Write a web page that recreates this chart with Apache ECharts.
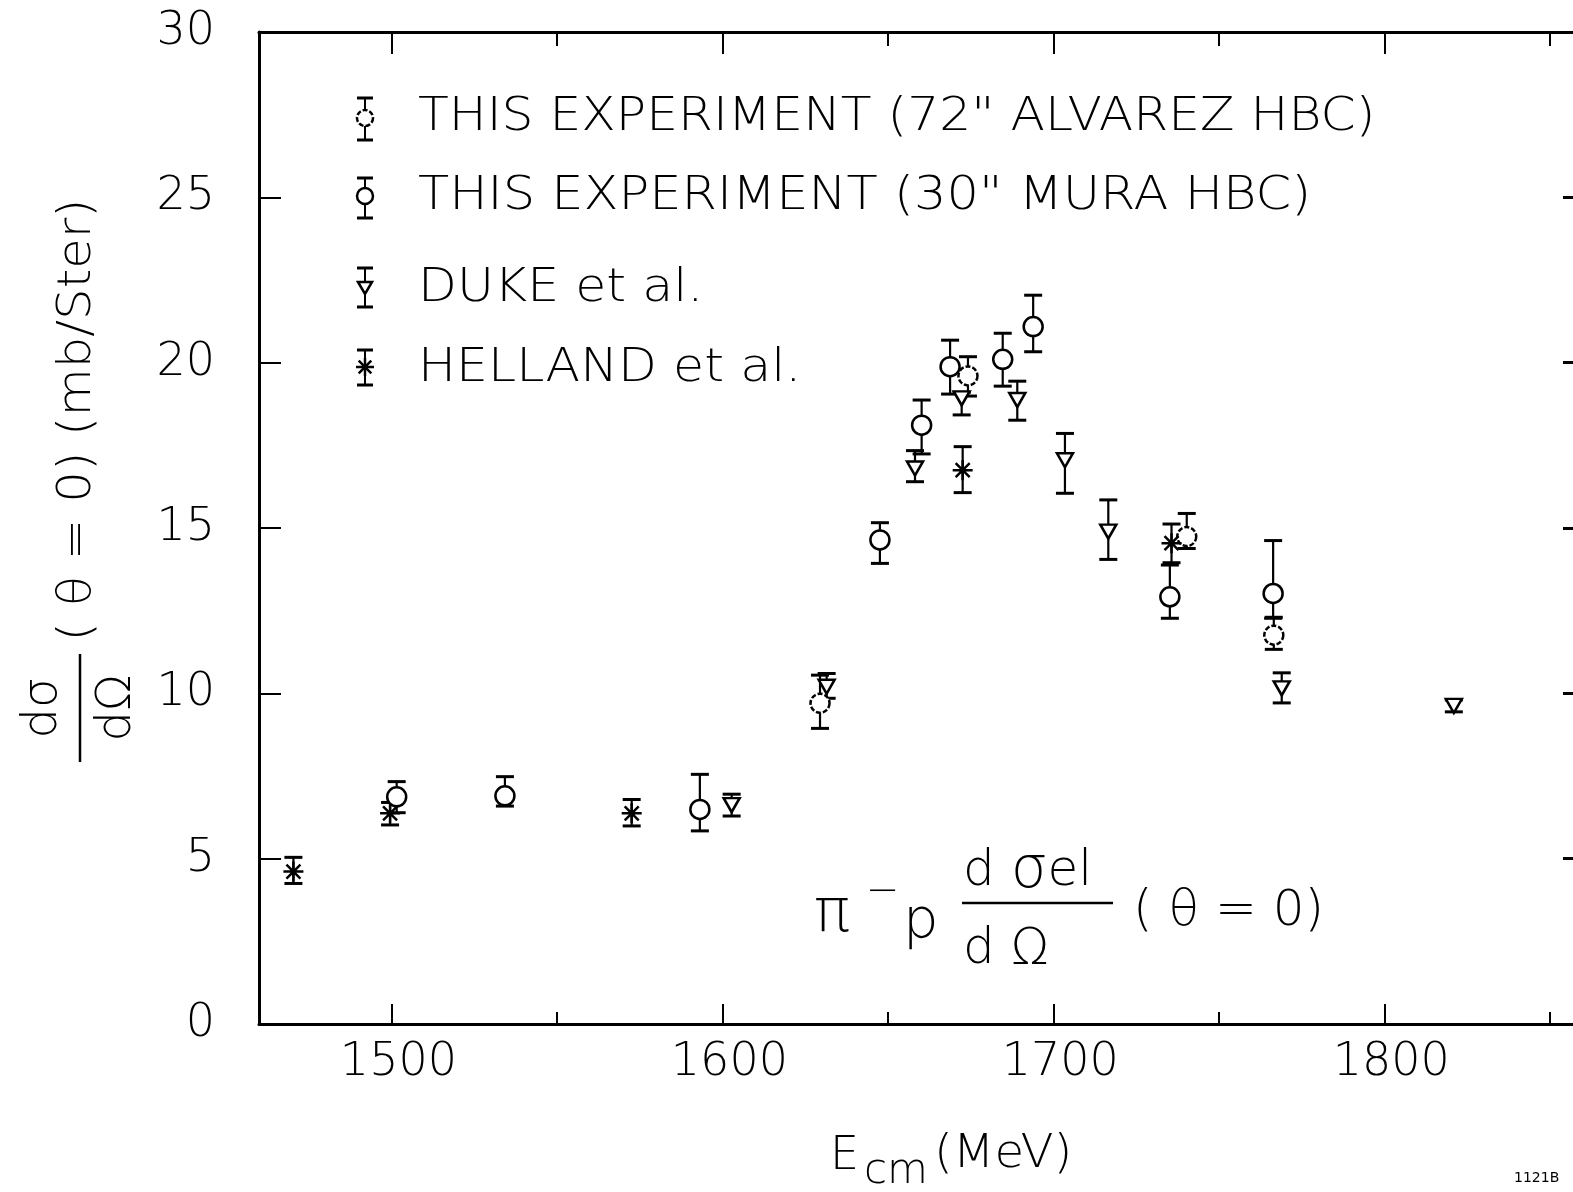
<!DOCTYPE html>
<html>
<head>
<meta charset="utf-8">
<script src="https://cdn.jsdelivr.net/npm/echarts@6/dist/echarts.min.js"></script>
<style>
html,body{margin:0;padding:0;background:#fff;}
#chart{width:1573px;height:1192px;}
</style>
</head>
<body>
<div id="chart"></div>
<script>
// ---- data (E_cm in MeV, dσ/dΩ in mb/sr) ----
const alvarezE  = [1629.5, 1674.2, 1740.3, 1766.6];
const alvarezY  = [9.70, 19.60, 14.74, 11.76];
const alvarezHi = [10.55, 20.18, 15.44, 12.30];
const alvarezLo = [8.94, 18.99, 14.38, 11.33];

const muraE  = [1501.6, 1534.3, 1593.2, 1647.6, 1660.2, 1668.8, 1684.7, 1693.9, 1735.2, 1766.4];
const muraY  = [6.87, 6.90, 6.49, 14.64, 18.11, 19.88, 20.10, 21.09, 12.92, 13.02];
const muraHi = [7.33, 7.48, 7.55, 15.16, 18.87, 20.68, 20.89, 22.04, 13.88, 14.62];
const muraLo = [6.39, 6.59, 5.84, 13.93, 17.24, 19.05, 19.29, 20.33, 12.27, 12.27];

const dukeE  = [1602.8, 1631.5, 1658.2, 1672.3, 1689.1, 1703.5, 1716.6, 1769.0, 1821.0];
const dukeY  = [6.62, 10.20, 16.80, 18.92, 18.87, 17.05, 14.89, 10.15, 9.62];
const dukeHi = [6.95, 10.60, 17.34, 19.10, 19.44, 17.86, 15.85, 10.62, 9.80];
const dukeLo = [6.29, 9.85, 16.40, 18.42, 18.26, 16.05, 14.05, 9.71, 9.44];

const hellandE  = [1470.4, 1499.6, 1572.6, 1672.6, 1735.7];
const hellandY  = [4.61, 6.37, 6.37, 16.75, 14.54];
const hellandHi = [5.04, 6.70, 6.79, 17.46, 15.12];
const hellandLo = [4.25, 6.02, 5.99, 16.07, 13.95];

const xMajorTicks = [1500, 1600, 1700, 1800];
const xMinorTicks = [1550, 1650, 1750, 1850];
const xRange = [1460, 1857];
const yRange = [0, 30];

// ---- helpers ----
const FONT = 'DejaVu Sans';
const W = 200; // light lettering
const pts = (xs, ys) => xs.map((x, i) => [x, ys[i]]);
const bars = (xs, lo, hi) => xs.map((x, i) => [x, lo[i], hi[i]]);

function errRender(params, api) {
  const x = api.value(0), lo = api.value(1), hi = api.value(2);
  const a = api.coord([x, hi]), b = api.coord([x, lo]);
  const w = 9;
  const st = {stroke: '#000', lineWidth: 2.2};
  const cap = {stroke: '#000', lineWidth: 3};
  return {type: 'group', children: [
    {type: 'line', shape: {x1: a[0], y1: a[1], x2: b[0], y2: b[1]}, style: st},
    {type: 'line', shape: {x1: a[0] - w, y1: a[1], x2: a[0] + w, y2: a[1]}, style: cap},
    {type: 'line', shape: {x1: b[0] - w, y1: b[1], x2: b[0] + w, y2: b[1]}, style: cap}
  ]};
}
function errSeries(data) {
  return {type: 'custom', xAxisIndex: 0, yAxisIndex: 0, renderItem: errRender, data: data, z: 2, silent: true, clip: false};
}

const TRI = 'path://M0,0L20,0L10,17Z';
const AST = 'path://M10,0L10,20M0,10L20,10M3,3L17,17M3,17L17,3';

const option = {
  backgroundColor: '#fff',
  animation: false,
  grid: {left: 259, right: 0, top: 32, bottom: 168, containLabel: false, outerBoundsMode: 'none'},
  xAxis: [
    {type: 'value', position: 'bottom', min: xRange[0], max: xRange[1],
     axisLine: {show: true, lineStyle: {color: '#000', width: 3}},
     axisTick: {show: true, inside: true, length: 20, customValues: xMajorTicks, lineStyle: {color: '#000', width: 2}},
     axisLabel: {show: true, customValues: xMajorTicks, formatter: v => String(v), color: '#000', fontSize: 46, fontFamily: FONT, fontWeight: W, margin: 16, padding: [0, 0, 0, 14]},
     splitLine: {show: false}},
    {type: 'value', position: 'bottom', min: xRange[0], max: xRange[1],
     axisLine: {show: false},
     axisTick: {show: true, inside: true, length: 12, customValues: xMinorTicks, lineStyle: {color: '#000', width: 2}},
     axisLabel: {show: false}, splitLine: {show: false}},
    {type: 'value', position: 'top', min: xRange[0], max: xRange[1],
     axisLine: {show: true, lineStyle: {color: '#000', width: 3}},
     axisTick: {show: true, inside: true, length: 22, customValues: xMajorTicks, lineStyle: {color: '#000', width: 2}},
     axisLabel: {show: false}, splitLine: {show: false}},
    {type: 'value', position: 'top', min: xRange[0], max: xRange[1],
     axisLine: {show: false},
     axisTick: {show: true, inside: true, length: 14, customValues: xMinorTicks, lineStyle: {color: '#000', width: 2}},
     axisLabel: {show: false}, splitLine: {show: false}}
  ],
  yAxis: [
    {type: 'value', position: 'left', min: yRange[0], max: yRange[1], interval: 5,
     axisLine: {show: true, lineStyle: {color: '#000', width: 3}},
     axisTick: {show: true, inside: true, length: 22, lineStyle: {color: '#000', width: 2}},
     axisLabel: {show: true, color: '#000', fontSize: 46, fontFamily: FONT, fontWeight: W, margin: 44},
     splitLine: {show: false}},
    {type: 'value', position: 'right', min: yRange[0], max: yRange[1], interval: 5,
     axisLine: {show: false},
     axisTick: {show: true, inside: true, length: 10, lineStyle: {color: '#000', width: 3}},
     axisLabel: {show: false}, splitLine: {show: false}}
  ],
  series: [
    errSeries(bars(alvarezE, alvarezLo, alvarezHi)),
    errSeries(bars(muraE, muraLo, muraHi)),
    errSeries(bars(dukeE, dukeLo, dukeHi)),
    errSeries(bars(hellandE, hellandLo, hellandHi)),
    {name: 'THIS EXPERIMENT (72" ALVAREZ HBC)', type: 'scatter', data: pts(alvarezE, alvarezY), z: 5,
     symbol: 'circle', symbolSize: 19,
     itemStyle: {color: '#fff', borderColor: '#000', borderWidth: 2.5, borderType: [5, 2], opacity: 1}},
    {name: 'THIS EXPERIMENT (30" MURA HBC)', type: 'scatter', data: pts(muraE, muraY), z: 5,
     symbol: 'circle', symbolSize: 19,
     itemStyle: {color: '#fff', borderColor: '#000', borderWidth: 2.5, opacity: 1}},
    {name: 'DUKE et al.', type: 'scatter', data: pts(dukeE, dukeY), z: 5,
     symbol: TRI, symbolSize: [16, 14],
     itemStyle: {color: '#fff', borderColor: '#000', borderWidth: 2.5, opacity: 1}},
    {name: 'HELLAND et al.', type: 'scatter', data: pts(hellandE, hellandY), z: 5,
     symbol: AST, symbolSize: 20,
     itemStyle: {color: 'rgba(0,0,0,0)', borderColor: '#000', borderWidth: 2.5, opacity: 1}}
  ],
  graphic: []
};

// ---- legend (drawn) ----
function capPair(x, yTop, yBot) {
  return [
    {type: 'line', shape: {x1: x, y1: yTop, x2: x, y2: yBot}, style: {stroke: '#000', lineWidth: 2}},
    {type: 'line', shape: {x1: x - 8, y1: yTop, x2: x + 8, y2: yTop}, style: {stroke: '#000', lineWidth: 3}},
    {type: 'line', shape: {x1: x - 8, y1: yBot, x2: x + 8, y2: yBot}, style: {stroke: '#000', lineWidth: 3}}
  ];
}
function asterisk(cx, cy, r) {
  const d = r * 0.7;
  const s = {stroke: '#000', lineWidth: 2.5};
  return [
    {type: 'line', shape: {x1: cx, y1: cy - r, x2: cx, y2: cy + r}, style: s, z: 10},
    {type: 'line', shape: {x1: cx - r, y1: cy, x2: cx + r, y2: cy}, style: s, z: 10},
    {type: 'line', shape: {x1: cx - d, y1: cy - d, x2: cx + d, y2: cy + d}, style: s, z: 10},
    {type: 'line', shape: {x1: cx - d, y1: cy + d, x2: cx + d, y2: cy - d}, style: s, z: 10}
  ];
}
const g = option.graphic;
const LX = 365;
g.push(...capPair(LX, 98, 140));
g.push({type: 'circle', shape: {cx: LX, cy: 118, r: 8}, style: {fill: '#fff', stroke: '#000', lineWidth: 2.5, lineDash: [5, 2]}, z: 10});
g.push(...capPair(LX, 178, 218));
g.push({type: 'circle', shape: {cx: LX, cy: 196, r: 8}, style: {fill: '#fff', stroke: '#000', lineWidth: 2.5}, z: 10});
g.push(...capPair(LX, 268, 307));
g.push({type: 'polygon', shape: {points: [[LX - 7, 282], [LX + 7, 282], [LX, 294]]}, style: {fill: '#fff', stroke: '#000', lineWidth: 2.5}, z: 10});
g.push(...capPair(LX, 350, 385));
g.push(...asterisk(LX, 367, 9));

const f = (px) => W + ' ' + px + 'px "DejaVu Sans"';
const legTxt = (t, y, sx) => ({type: 'text', x: 418, y: y, scaleX: sx, style: {text: t, font: f(46), fill: '#000', textAlign: 'left', textVerticalAlign: 'middle'}});
g.push(legTxt('THIS EXPERIMENT (72" ALVAREZ HBC)', 118, 1.095));
g.push(legTxt('THIS EXPERIMENT (30" MURA HBC)', 197, 1.11));
g.push(legTxt('DUKE et al.', 289, 1.1));
g.push(legTxt('HELLAND et al.', 369, 1.1));

// ---- y-axis title (rotated) ----
g.push({type: 'group', x: 80, y: 708, rotation: Math.PI / 2, children: [
  {type: 'text', x: 0, y: -36, style: {text: 'dσ', font: f(48), fill: '#000', textAlign: 'center', textVerticalAlign: 'middle'}},
  {type: 'line', shape: {x1: -54, y1: 0, x2: 54, y2: 0}, style: {stroke: '#000', lineWidth: 2.5}},
  {type: 'text', x: 0, y: 38, style: {text: 'dΩ', font: f(48), fill: '#000', textAlign: 'center', textVerticalAlign: 'middle'}},
  {type: 'text', x: 288, y: -2, scaleX: 1.08, style: {text: '( θ = 0) (mb/Ster)', font: f(46), fill: '#000', textAlign: 'center', textVerticalAlign: 'middle'}}
]});

// ---- x-axis title ----
g.push({type: 'text', x: 830, y: 1157, style: {text: 'E', font: f(46), fill: '#000', textAlign: 'left', textVerticalAlign: 'middle'}});
g.push({type: 'text', x: 864, y: 1172, style: {text: 'cm', font: f(42), fill: '#000', textAlign: 'left', textVerticalAlign: 'middle'}});
g.push({type: 'text', x: 934, y: 1155, scaleX: 1.05, style: {text: '(MeV)', font: f(46), fill: '#000', textAlign: 'left', textVerticalAlign: 'middle'}});

// ---- annotation ----
g.push({type: 'text', x: 814, y: 915, style: {text: 'π', font: f(60), fill: '#000', textAlign: 'left', textVerticalAlign: 'middle'}});
g.push({type: 'text', x: 866, y: 893, style: {text: '−', font: f(40), fill: '#000', textAlign: 'left', textVerticalAlign: 'middle'}});
g.push({type: 'text', x: 903, y: 922, style: {text: 'p', font: f(56), fill: '#000', textAlign: 'left', textVerticalAlign: 'middle'}});
g.push({type: 'text', x: 963, y: 872, style: {text: 'd {s|σ}el', font: f(50), fill: '#000', textAlign: 'left', textVerticalAlign: 'middle',
  rich: {s: {font: f(58), fill: '#000'}}}});
g.push({type: 'line', shape: {x1: 962, y1: 903, x2: 1113, y2: 903}, style: {stroke: '#000', lineWidth: 2.5}});
g.push({type: 'text', x: 963, y: 950, style: {text: 'd Ω', font: f(50), fill: '#000', textAlign: 'left', textVerticalAlign: 'middle'}});
g.push({type: 'text', x: 1133, y: 912, style: {text: '( θ = 0)', font: f(50), fill: '#000', textAlign: 'left', textVerticalAlign: 'middle'}});

// ---- figure id ----
g.push({type: 'text', x: 1514, y: 1178, style: {text: '1121B', font: '14px "DejaVu Sans"', fill: '#000', textAlign: 'left', textVerticalAlign: 'middle'}});

const chart = echarts.init(document.getElementById('chart'), null, {renderer: 'canvas'});
chart.setOption(option);
</script>
</body>
</html>
